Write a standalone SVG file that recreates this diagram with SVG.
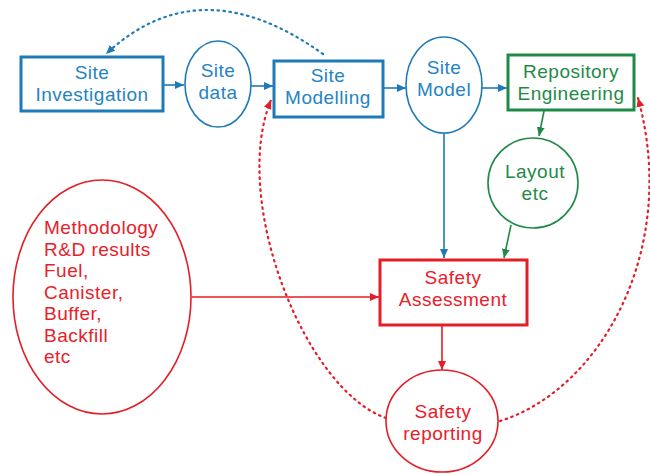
<svg xmlns="http://www.w3.org/2000/svg" width="650" height="474" viewBox="0 0 650 474">
<defs>
<style>
text{font-family:"Liberation Sans",Arial,sans-serif;font-size:19px;letter-spacing:0.5px;text-anchor:middle}
.b{fill:#2384c2}.g{fill:#1f8a48}.r{fill:#e8202a}
.box{fill:#fff;stroke-width:3}
.ell{fill:#fff;stroke-width:1.6}
.sb{stroke:#1f7bb8}.sg{stroke:#1f8a48}.sr{stroke:#e41e26}
.ln{fill:none;stroke-width:1.6}
.dot{fill:none;stroke-width:2.2;stroke-dasharray:1.5 4.5;stroke-linecap:round}
</style>
<marker id="ab" markerWidth="10" markerHeight="10" refX="9" refY="5" orient="auto" markerUnits="userSpaceOnUse"><path d="M0,1 L9,5 L0,9 z" fill="#1f7bb8"/></marker>
<marker id="ag" markerWidth="10" markerHeight="10" refX="9" refY="5" orient="auto" markerUnits="userSpaceOnUse"><path d="M0,1 L9,5 L0,9 z" fill="#1f8a48"/></marker>
<marker id="ar" markerWidth="10" markerHeight="10" refX="9" refY="5" orient="auto" markerUnits="userSpaceOnUse"><path d="M0,1 L9,5 L0,9 z" fill="#e41e26"/></marker>
</defs>
<rect width="650" height="474" fill="#fff"/>
<g id="connectors">
<line class="ln sb" x1="163" y1="85" x2="184" y2="85" marker-end="url(#ab)"/>
<line class="ln sb" x1="251" y1="86" x2="273" y2="86" marker-end="url(#ab)"/>
<line class="ln sb" x1="383" y1="88" x2="406" y2="88" marker-end="url(#ab)"/>
<line class="ln sb" x1="482" y1="88" x2="507" y2="88" marker-end="url(#ab)"/>
<line class="ln sb" x1="444" y1="133" x2="444" y2="258" marker-end="url(#ab)"/>
<line class="ln sg" x1="544" y1="111" x2="539" y2="136" marker-end="url(#ag)"/>
<line class="ln sg" x1="511" y1="225" x2="504" y2="258" marker-end="url(#ag)"/>
<line class="ln sr" x1="192" y1="297" x2="379" y2="297" marker-end="url(#ar)"/>
<line class="ln sr" x1="442" y1="326" x2="442" y2="370" marker-end="url(#ar)"/>
<path class="dot sb" d="M323 54 Q200 -34 106 54" marker-end="url(#ab)"/>
<path class="dot sr" d="M386 418 C305 390 230 200 271 100" marker-end="url(#ar)"/>
<path class="dot sr" d="M500 421 C600 390 680 250 638 98" marker-end="url(#ar)"/>
</g>
<g id="site-investigation">
<rect class="box sb" x="21" y="57" width="142" height="54"/>
<text class="b" x="92" y="79">Site</text>
<text class="b" x="92" y="100.5">Investigation</text>
</g>
<g id="site-data">
<ellipse class="ell sb" cx="218" cy="84" rx="33" ry="43"/>
<text class="b" x="218" y="77">Site</text>
<text class="b" x="218" y="98.5">data</text>
</g>
<g id="site-modelling">
<rect class="box sb" x="274" y="61" width="109" height="56"/>
<text class="b" x="328" y="82">Site</text>
<text class="b" x="328" y="103.5">Modelling</text>
</g>
<g id="site-model">
<ellipse class="ell sb" cx="444" cy="85" rx="38" ry="48"/>
<text class="b" x="444" y="74">Site</text>
<text class="b" x="444" y="95.5">Model</text>
</g>
<g id="repository-engineering">
<rect class="box sg" x="508" y="55" width="126" height="55"/>
<text class="g" x="571" y="78">Repository</text>
<text class="g" x="571" y="99.5">Engineering</text>
</g>
<g id="layout-etc">
<circle class="ell sg" cx="533" cy="183" r="45"/>
<text class="g" x="535" y="178">Layout</text>
<text class="g" x="535" y="199.5">etc</text>
</g>
<g id="methodology">
<ellipse class="ell sr" cx="102" cy="297" rx="89" ry="117"/>
<text class="r" style="text-anchor:start" x="44"><tspan x="44" y="234">Methodology</tspan><tspan x="44" y="255.5">R&amp;D results</tspan><tspan x="44" y="277">Fuel,</tspan><tspan x="44" y="298.5">Canister,</tspan><tspan x="44" y="320">Buffer,</tspan><tspan x="44" y="341.5">Backfill</tspan><tspan x="44" y="363">etc</tspan></text>
</g>
<g id="safety-assessment">
<rect class="box sr" x="380" y="260" width="147" height="65"/>
<text class="r" x="453" y="284">Safety</text>
<text class="r" x="453" y="305.5">Assessment</text>
</g>
<g id="safety-reporting">
<ellipse class="ell sr" cx="442" cy="421" rx="56" ry="51"/>
<text class="r" x="443" y="418">Safety</text>
<text class="r" x="443" y="439.5">reporting</text>
</g>
</svg>
